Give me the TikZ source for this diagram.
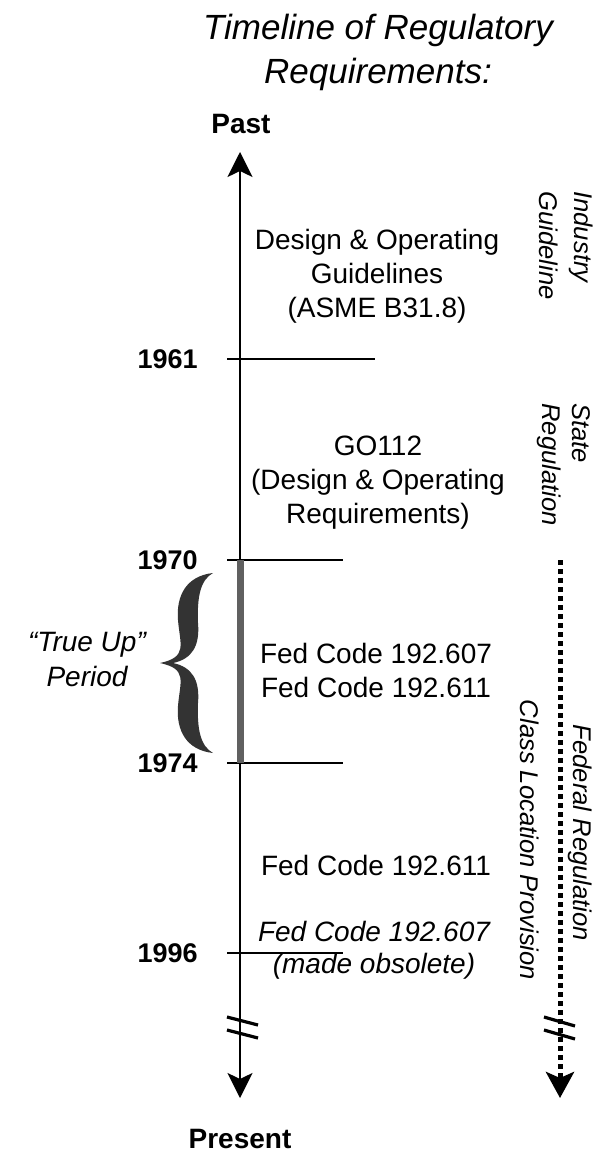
\documentclass[tikz,border=0pt]{standalone}
\usepackage{fontspec}
\setmainfont{Liberation Sans}
\usetikzlibrary{arrows.meta,positioning}

\tikzset{
  maintext/.style={align=center,font=\fontsize{14}{17}\selectfont},
  yearlbl/.style={anchor=east,inner sep=0pt,font=\bfseries\fontsize{13.5}{16}\selectfont},
  endlbl/.style={inner sep=0pt,font=\bfseries\fontsize{14}{16}\selectfont},
  sidelbl/.style={rotate=-90,inner sep=0pt,font=\itshape\fontsize{12.8}{15}\selectfont},
  tickline/.style={line width=1pt},
  breakmark/.style={line width=1.6pt},
}

\begin{document}
\begin{tikzpicture}[x=0.5pt,y=-0.5pt]
\useasboundingbox (0,0) rectangle (601,1154);

% title and ends of the time axis
\node[align=center,font=\itshape\fontsize{17.5}{22}\selectfont] (title) at (378,52) {Timeline of Regulatory\\Requirements:};
\node[endlbl] (past) at (241,124) {Past};
\node[endlbl] (present) at (240,1139) {Present};
\coordinate (axtop) at (240,152);
\coordinate (axbot) at (240,1098);

% axis
\draw[line width=1pt,{Stealth[length=12.5pt,width=12.5pt,inset=3pt]}-{Stealth[length=12.5pt,width=12.5pt,inset=3pt]}] (axbot) -- (axtop);

% year ticks
\foreach \yr/\ypos/\xend in {1961/359/375,1970/560/343,1974/763/343,1996/953/343}{
  \coordinate (y\yr) at (240,\ypos);
  \draw[tickline] (227,\ypos) -- (\xend,\ypos);
  \node[yearlbl] (l\yr) at (198,\ypos) {\yr};
}

% true up period
\draw[gray!75!black,line width=3.5pt] (y1970) -- (y1974);
\fill[black!80] (213,573) .. controls (186,576) and (176,596) .. (178,620)
  .. controls (180,645) and (188,657) .. (160,663)
  .. controls (188,669) and (180,681) .. (178,706)
  .. controls (176,730) and (186,750) .. (213,753)
  .. controls (200,746) and (197,728) .. (198,703)
  .. controls (200,680) and (192,667) .. (173,663)
  .. controls (192,659) and (200,646) .. (198,623)
  .. controls (197,598) and (200,580) .. cycle;
\node[align=center,font=\itshape\fontsize{14}{17.5}\selectfont] (trueup) at (87,660) {“True Up”\\Period};

% requirements
\node[maintext] (asme) at (377,276) {Design \& Operating\\Guidelines\\(ASME B31.8)};
\node[maintext] (go) at (378,483) {GO112\\(Design \& Operating\\Requirements)};
\node[maintext] (fedA) at (376,670) {Fed Code 192.607\\Fed Code 192.611};
\node[maintext] (fedB) at (376,865) {Fed Code 192.611};
\node[maintext,font=\itshape\fontsize{14}{16}\selectfont] (obs) at (374,950) {Fed Code 192.607\\(made obsolete)};

% right side
\node[sidelbl,anchor=west] (ind) at (581,191) {Industry};
\node[sidelbl,anchor=west] (guide) at (549,191) {Guideline};
\node[sidelbl,anchor=west] (state) at (581,403) {State};
\node[sidelbl,anchor=west] (reg) at (549,403) {Regulation};
\node[sidelbl] (fedreg) at (580,833) {Federal Regulation};
\node[sidelbl] (clp) at (530,840) {Class Location Provision};
\coordinate (dtop) at (y1970 -| 560,0);
\coordinate (dbot) at (560,1098);
\draw[line width=2.5pt,dash pattern=on 2.5pt off 2pt,-{Stealth[length=13pt,width=14pt,inset=3pt]}] (dtop) -- (dbot);

% breaks
\draw[breakmark] (227,1017) -- (258,1025) (227,1030) -- (258,1038);
\draw[breakmark] (544,1017) -- (575,1026) (544,1030) -- (575,1039);
\end{tikzpicture}
\end{document}
